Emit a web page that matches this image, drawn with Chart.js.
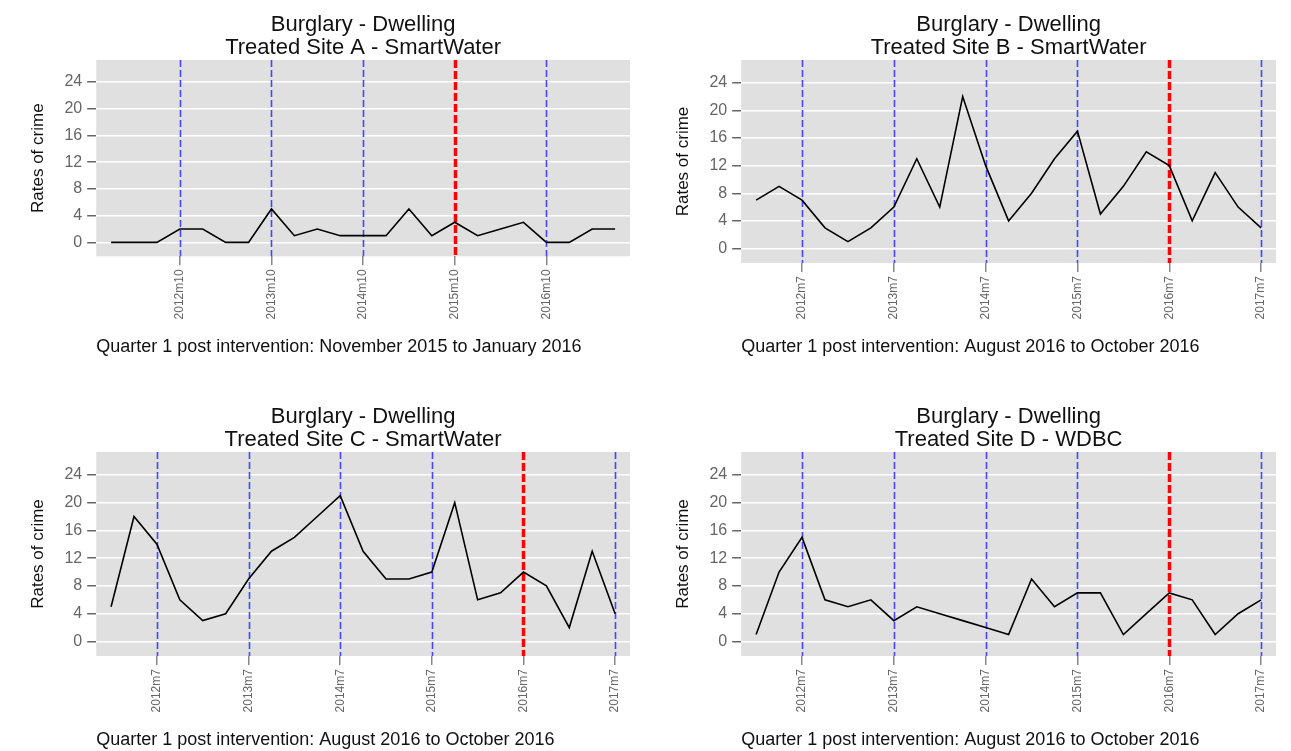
<!DOCTYPE html>
<html>
<head>
<meta charset="utf-8">
<script src="https://cdn.jsdelivr.net/npm/chart.js@4.4.1/dist/chart.umd.min.js"></script>
<style>
  body { margin: 0; background: #fff; width: 1291px; height: 751px; overflow: hidden; position: relative; }
  canvas { position: absolute; }
</style>
</head>
<body>
<canvas id="grafA" width="645" height="358" style="left:0;top:0"></canvas>
<canvas id="grafB" width="646" height="358" style="left:645px;top:0"></canvas>
<canvas id="grafC" width="645" height="359" style="left:0;top:392px"></canvas>
<canvas id="grafD" width="646" height="359" style="left:645px;top:392px"></canvas>
<script>
// Trimestres (2012m1 a 2017m7)
const trimestres = ['2012m1','2012m4','2012m7','2012m10','2013m1','2013m4','2013m7','2013m10',
  '2014m1','2014m4','2014m7','2014m10','2015m1','2015m4','2015m7','2015m10',
  '2016m1','2016m4','2016m7','2016m10','2017m1','2017m4','2017m7'];

// Valores
const sitioA = [0,0,0,2,2,0,0,5,1,2,1,1,1,5,1,3,1,2,3,0,0,2,2];
const sitioB = [7,9,7,3,1,3,6,13,6,22,12,4,8,13,17,5,9,14,12,4,11,6,3];
const sitioC = [5,18,14,6,3,4,9,13,15,18,21,13,9,9,10,20,6,7,10,8,2,13,4];
const sitioD = [1,10,15,6,5,6,3,5,4,3,2,1,9,5,7,7,1,4,7,6,1,4,6];

// Marcas del eje x y líneas verticales
const marcasA = ['2012m10','2013m10','2014m10','2015m10','2016m10'];
const marcasBCD = ['2012m7','2013m7','2014m7','2015m7','2016m7','2017m7'];
const intervencionA = '2015m10';
const intervencionBCD = '2016m7';
const marcasY = [0,4,8,12,16,20,24];

const fuente = '"Liberation Sans", Arial, sans-serif';

// Fondo gris y líneas verticales punteadas
const fondoYLineas = {
  id: 'fondoYLineas',
  beforeDraw(chart) {
    const { ctx, chartArea: a } = chart;
    ctx.save();
    ctx.fillStyle = '#e0e0e0';
    ctx.fillRect(a.left, a.top, a.width, a.height);
    ctx.restore();
  },
  beforeDatasetsDraw(chart, args, opts) {
    const { ctx, chartArea: a, scales } = chart;
    opts.lineas.forEach(l => {
      const px = Math.round(scales.x.getPixelForValue(trimestres.indexOf(l))) + 0.5;
      const roja = l === opts.intervencion;
      ctx.save();
      ctx.strokeStyle = roja ? '#ff0000' : '#4646ff';
      ctx.lineWidth = roja ? 3.5 : 1.6;
      ctx.setLineDash(roja ? [8, 3] : [7, 3]);
      ctx.beginPath();
      ctx.moveTo(px, a.top);
      ctx.lineTo(px, a.bottom);
      ctx.stroke();
      ctx.restore();
    });
  }
};

function crearGrafico(id, sitio, valores, marcas, intervencion, nota) {
  const ctx = document.getElementById(id).getContext('2d');
  return new Chart(ctx, {
    type: 'line',
    data: {
      datasets: [{
        data: valores.map((v, i) => ({ x: i, y: v })),
        borderColor: '#000',
        borderWidth: 1.6,
        pointRadius: 0,
        tension: 0,
        fill: false
      }]
    },
    options: {
      responsive: false,
      animation: false,
      devicePixelRatio: 1,
      layout: { padding: { left: 28, right: 15, top: 0, bottom: 0 } },
      scales: {
        x: {
          type: 'linear',
          min: -0.65,
          max: 22.65,
          afterBuildTicks: scale => { scale.ticks = marcas.map(m => ({ value: trimestres.indexOf(m) })); },
          ticks: {
            autoSkip: false,
            minRotation: 90,
            maxRotation: 90,
            color: '#666',
            font: { family: fuente, size: 12 },
            padding: 4,
            callback: v => trimestres[v]
          },
          grid: { drawOnChartArea: false, drawTicks: true, tickLength: 9, tickColor: '#888', lineWidth: 1.5 },
          border: { display: false }
        },
        y: {
          min: -2.1,
          max: 27.3,
          afterBuildTicks: scale => { scale.ticks = marcasY.map(v => ({ value: v })); },
          ticks: { color: '#666', font: { family: fuente, size: 16 }, padding: 5 },
          grid: { color: '#fff', lineWidth: 1.5, tickLength: 9, tickColor: '#666' },
          border: { display: false },
          title: { display: true, text: 'Rates of crime', color: '#111', font: { family: fuente, size: 17 }, padding: { top: 0, bottom: 11 } }
        }
      },
      plugins: {
        legend: { display: false },
        tooltip: { enabled: false },
        title: {
          display: true,
          fullSize: false,
          text: ['Burglary - Dwelling', 'Treated Site ' + sitio],
          color: '#111',
          font: { family: fuente, size: 22, weight: 'normal', lineHeight: 1.045 },
          padding: { top: 13, bottom: 1 }
        },
        subtitle: {
          display: true,
          position: 'bottom',
          align: 'start',
          fullSize: false,
          text: nota,
          color: '#111',
          font: { family: fuente, size: 18, weight: 'normal' },
          padding: { top: 13, bottom: 0 }
        },
        fondoYLineas: { lineas: marcas, intervencion: intervencion }
      }
    },
    plugins: [fondoYLineas]
  });
}

crearGrafico('grafA', 'A - SmartWater', sitioA, marcasA, intervencionA, 'Quarter 1 post intervention: November 2015 to January 2016');
crearGrafico('grafB', 'B - SmartWater', sitioB, marcasBCD, intervencionBCD, 'Quarter 1 post intervention: August 2016 to October 2016');
crearGrafico('grafC', 'C - SmartWater', sitioC, marcasBCD, intervencionBCD, 'Quarter 1 post intervention: August 2016 to October 2016');
crearGrafico('grafD', 'D - WDBC', sitioD, marcasBCD, intervencionBCD, 'Quarter 1 post intervention: August 2016 to October 2016');
</script>
</body>
</html>
